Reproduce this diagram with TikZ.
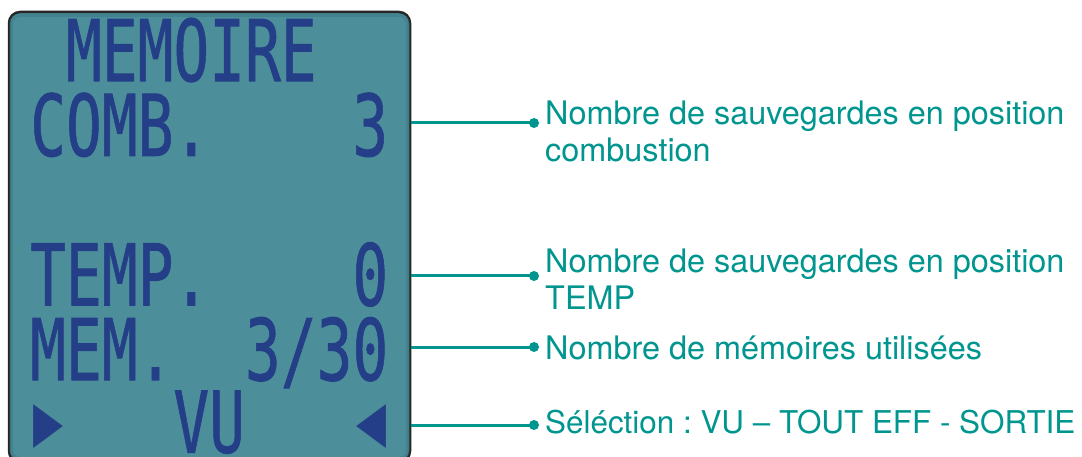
\documentclass[tikz,border=0pt]{standalone}
\usepackage{fontspec}
\setmainfont{TeX Gyre Heros}
\newfontfamily\lcdfont[FakeStretch=1.4,FakeBold=1.2]{DejaVu Sans Mono}
\newfontfamily\symfont{DejaVu Sans}
\newcommand\lcdtext[1]{\scalebox{1}[2]{#1}}
\definecolor{lcdbg}{HTML}{4C8E9A}
\definecolor{lcdedge}{HTML}{3B7A86}
\definecolor{lcdink}{HTML}{243F87}
\definecolor{lcdrim}{HTML}{262626}
\definecolor{tealc}{HTML}{00958F}
\tikzset{
  panel/.style={draw=lcdrim, line width=2.5pt, fill=lcdbg, rounded corners=11pt, inner sep=0pt, minimum width=401pt, minimum height=450pt},
  lcdtxt/.style={anchor=base west, inner sep=0pt, text=lcdink, text height=62pt, text depth=0pt, font=\lcdfont\fontsize{42.5}{42.5}\selectfont},
  lcdsym/.style={anchor=center, inner sep=0pt, text=lcdink, font=\symfont\fontsize{40}{40}\selectfont},
  lbl/.style={anchor=base west, inner sep=0pt, text=tealc, align=left, font=\frenchspacing\fontsize{32.4}{37}\selectfont},
  leader/.style={draw=tealc, line width=3pt},
  dotend/.style={fill=tealc}
}
\begin{document}
\begin{tikzpicture}[x=1pt,y=-1pt]
\useasboundingbox (0,0) rectangle (1082,457);
\node[panel] (lcd) at (209.5,237) {};
\begin{scope}
  \clip[rounded corners=10pt] (9.5,13.5) rectangle (409.5,460.5);
  \draw[lcdedge, line width=7pt, opacity=0.55, rounded corners=10pt] (9.5,13.5) rectangle (409.5,460.5);
\end{scope}
% LCD rows (cell pitch 35.8, baseline pitch 74.8)
\node[lcdtxt] (r1) at (65.8,81) {\lcdtext{MEMOIRE}};
\node[lcdtxt] (r2a) at (30,155.8) {\lcdtext{COMB.}};
\node[lcdtxt] (r2b) at (352.2,155.8) {\lcdtext{3}};
\node[lcdtxt] (r4a) at (30,305.4) {\lcdtext{TEMP.}};
\node[lcdtxt] (r4b) at (352.2,305.4) {\lcdtext{0}};
\node[lcdtxt] (r5a) at (30,380.2) {\lcdtext{MEM.}};
\node[lcdtxt] (r5b) at (244.8,380.2) {\lcdtext{3/30}};
\node[lcdsym] (r6a) at (48,427) {\resizebox*{30pt}{44pt}{▶}};
\node[lcdtxt] (r6b) at (173.2,452.5) {\lcdtext{VU}};
\node[lcdsym] (r6c) at (371,427) {\resizebox*{30pt}{44pt}{◀}};
% leaders
\coordinate (d1) at (534,123);
\coordinate (d2) at (534,276);
\coordinate (d3) at (534,347);
\coordinate (d4) at (534,425);
\foreach \d in {d1,d2,d3,d4}{
  \draw[leader] (lcd.east |- \d) -- (\d);
  \fill[dotend] (\d) circle (5pt);
}
% labels
\node[lbl] (l1) at (545,162) {Nombre de sauvegardes en position\\combustion};
\node[lbl] (l2) at (545,309) {Nombre de sauvegardes en position\\TEMP};
\node[lbl] (l3) at (545,359) {Nombre de mémoires utilisées};
\node[lbl, font=\frenchspacing\fontsize{31.4}{37}\selectfont] (l4) at (545,433) {Séléction : VU – TOUT EFF - SORTIE};
\end{tikzpicture}
\end{document}
